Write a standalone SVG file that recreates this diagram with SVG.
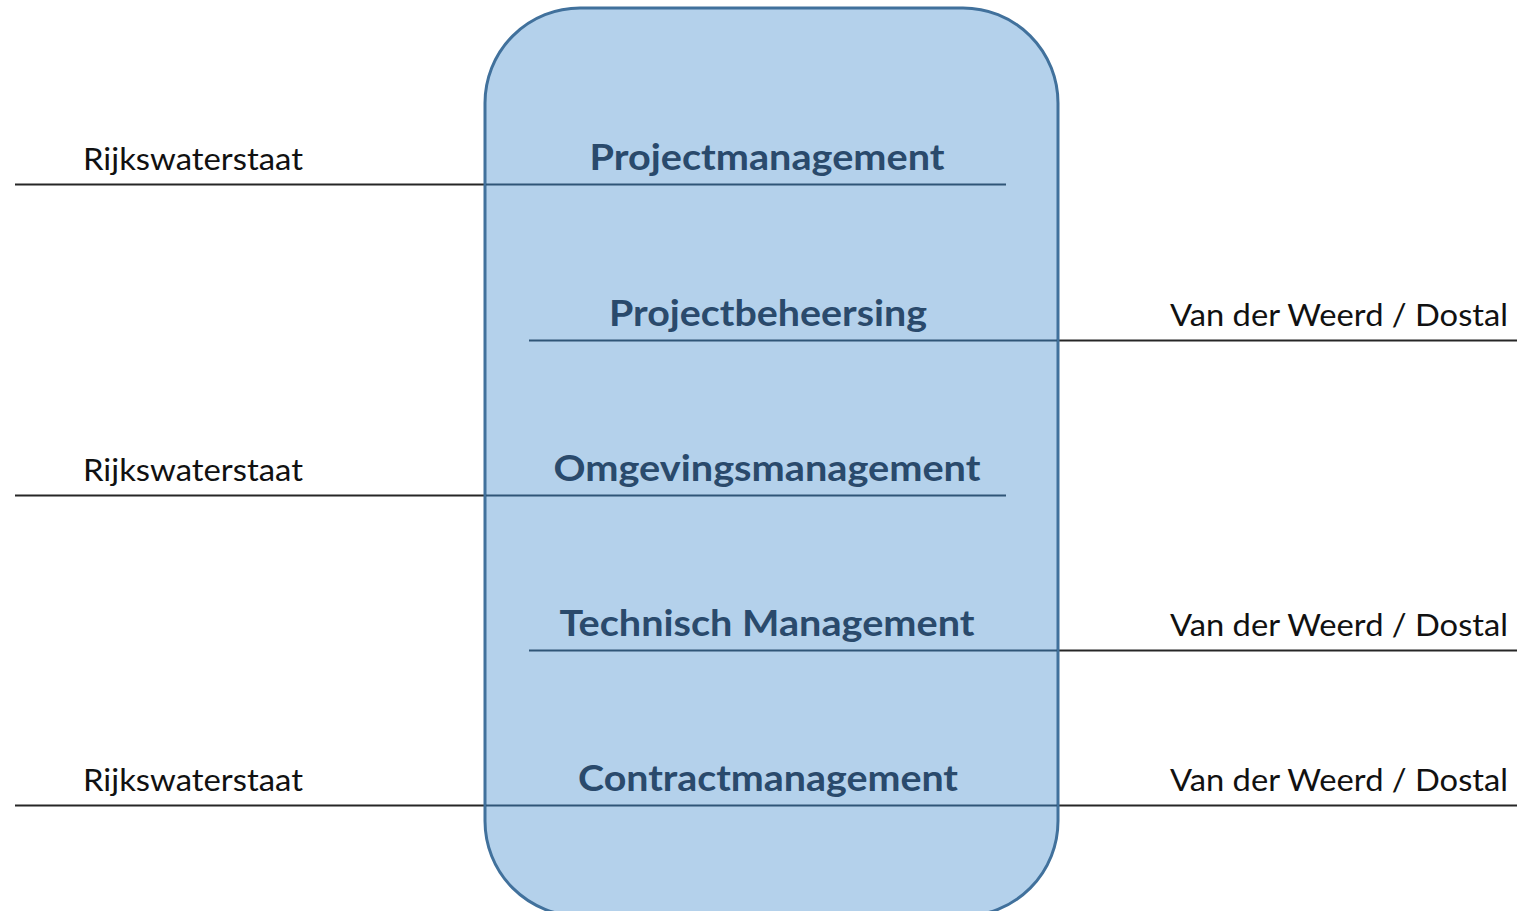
<svg xmlns="http://www.w3.org/2000/svg" width="1517" height="911" viewBox="0 0 1517 911">
<style>
.box{fill:#b4d1eb;stroke:#41719c;stroke-width:3}
.out{stroke:#262626;stroke-width:1.8;fill:none}
.in{stroke:#2f5577;stroke-width:1.8;fill:none}
.title{font-family:Lato,"Open Sans","Liberation Sans",sans-serif;font-weight:bold;font-size:36px;fill:#2a4a6c;text-anchor:middle}
.lbl{font-family:Lato,"Open Sans","Liberation Sans",sans-serif;font-size:30px;fill:#111}
</style>
<rect width="1517" height="911" fill="#ffffff"/>
<g id="connectors-outer">
<line class="out" x1="15" y1="184.5" x2="486" y2="184.5"/>
<line class="out" x1="1057" y1="340.5" x2="1517" y2="340.5"/>
<line class="out" x1="15" y1="495.5" x2="486" y2="495.5"/>
<line class="out" x1="1057" y1="650.5" x2="1517" y2="650.5"/>
<line class="out" x1="15" y1="805.5" x2="486" y2="805.5"/>
<line class="out" x1="1057" y1="805.5" x2="1517" y2="805.5"/>
</g>
<g id="box">
<rect class="box" x="485" y="8" width="573" height="908" rx="95" ry="95"/>
</g>
<g id="connectors-inner">
<line class="in" x1="486" y1="184.5" x2="1006" y2="184.5"/>
<line class="in" x1="529" y1="340.5" x2="1057" y2="340.5"/>
<line class="in" x1="486" y1="495.5" x2="1006" y2="495.5"/>
<line class="in" x1="529" y1="650.5" x2="1057" y2="650.5"/>
<line class="in" x1="486" y1="805.5" x2="1057" y2="805.5"/>
</g>
<g id="node-projectmanagement"><text class="title" x="767" y="170" textLength="355" lengthAdjust="spacingAndGlyphs">Projectmanagement</text></g>
<g id="node-projectbeheersing"><text class="title" x="768" y="326" textLength="318" lengthAdjust="spacingAndGlyphs">Projectbeheersing</text></g>
<g id="node-omgevingsmanagement"><text class="title" x="767" y="481" textLength="427" lengthAdjust="spacingAndGlyphs">Omgevingsmanagement</text></g>
<g id="node-technisch"><text class="title" x="767" y="636" textLength="415" lengthAdjust="spacingAndGlyphs">Technisch Management</text></g>
<g id="node-contractmanagement"><text class="title" x="768" y="791" textLength="380" lengthAdjust="spacingAndGlyphs">Contractmanagement</text></g>
<g id="label-rws-1"><text class="lbl" x="83" y="170" textLength="220" lengthAdjust="spacingAndGlyphs">Rijkswaterstaat</text></g>
<g id="label-rws-2"><text class="lbl" x="83" y="481" textLength="220" lengthAdjust="spacingAndGlyphs">Rijkswaterstaat</text></g>
<g id="label-rws-3"><text class="lbl" x="83" y="791" textLength="220" lengthAdjust="spacingAndGlyphs">Rijkswaterstaat</text></g>
<g id="label-vdw-1"><text class="lbl" x="1170" y="326" textLength="338" lengthAdjust="spacingAndGlyphs">Van der Weerd / Dostal</text></g>
<g id="label-vdw-2"><text class="lbl" x="1170" y="636" textLength="338" lengthAdjust="spacingAndGlyphs">Van der Weerd / Dostal</text></g>
<g id="label-vdw-3"><text class="lbl" x="1170" y="791" textLength="338" lengthAdjust="spacingAndGlyphs">Van der Weerd / Dostal</text></g>
</svg>
